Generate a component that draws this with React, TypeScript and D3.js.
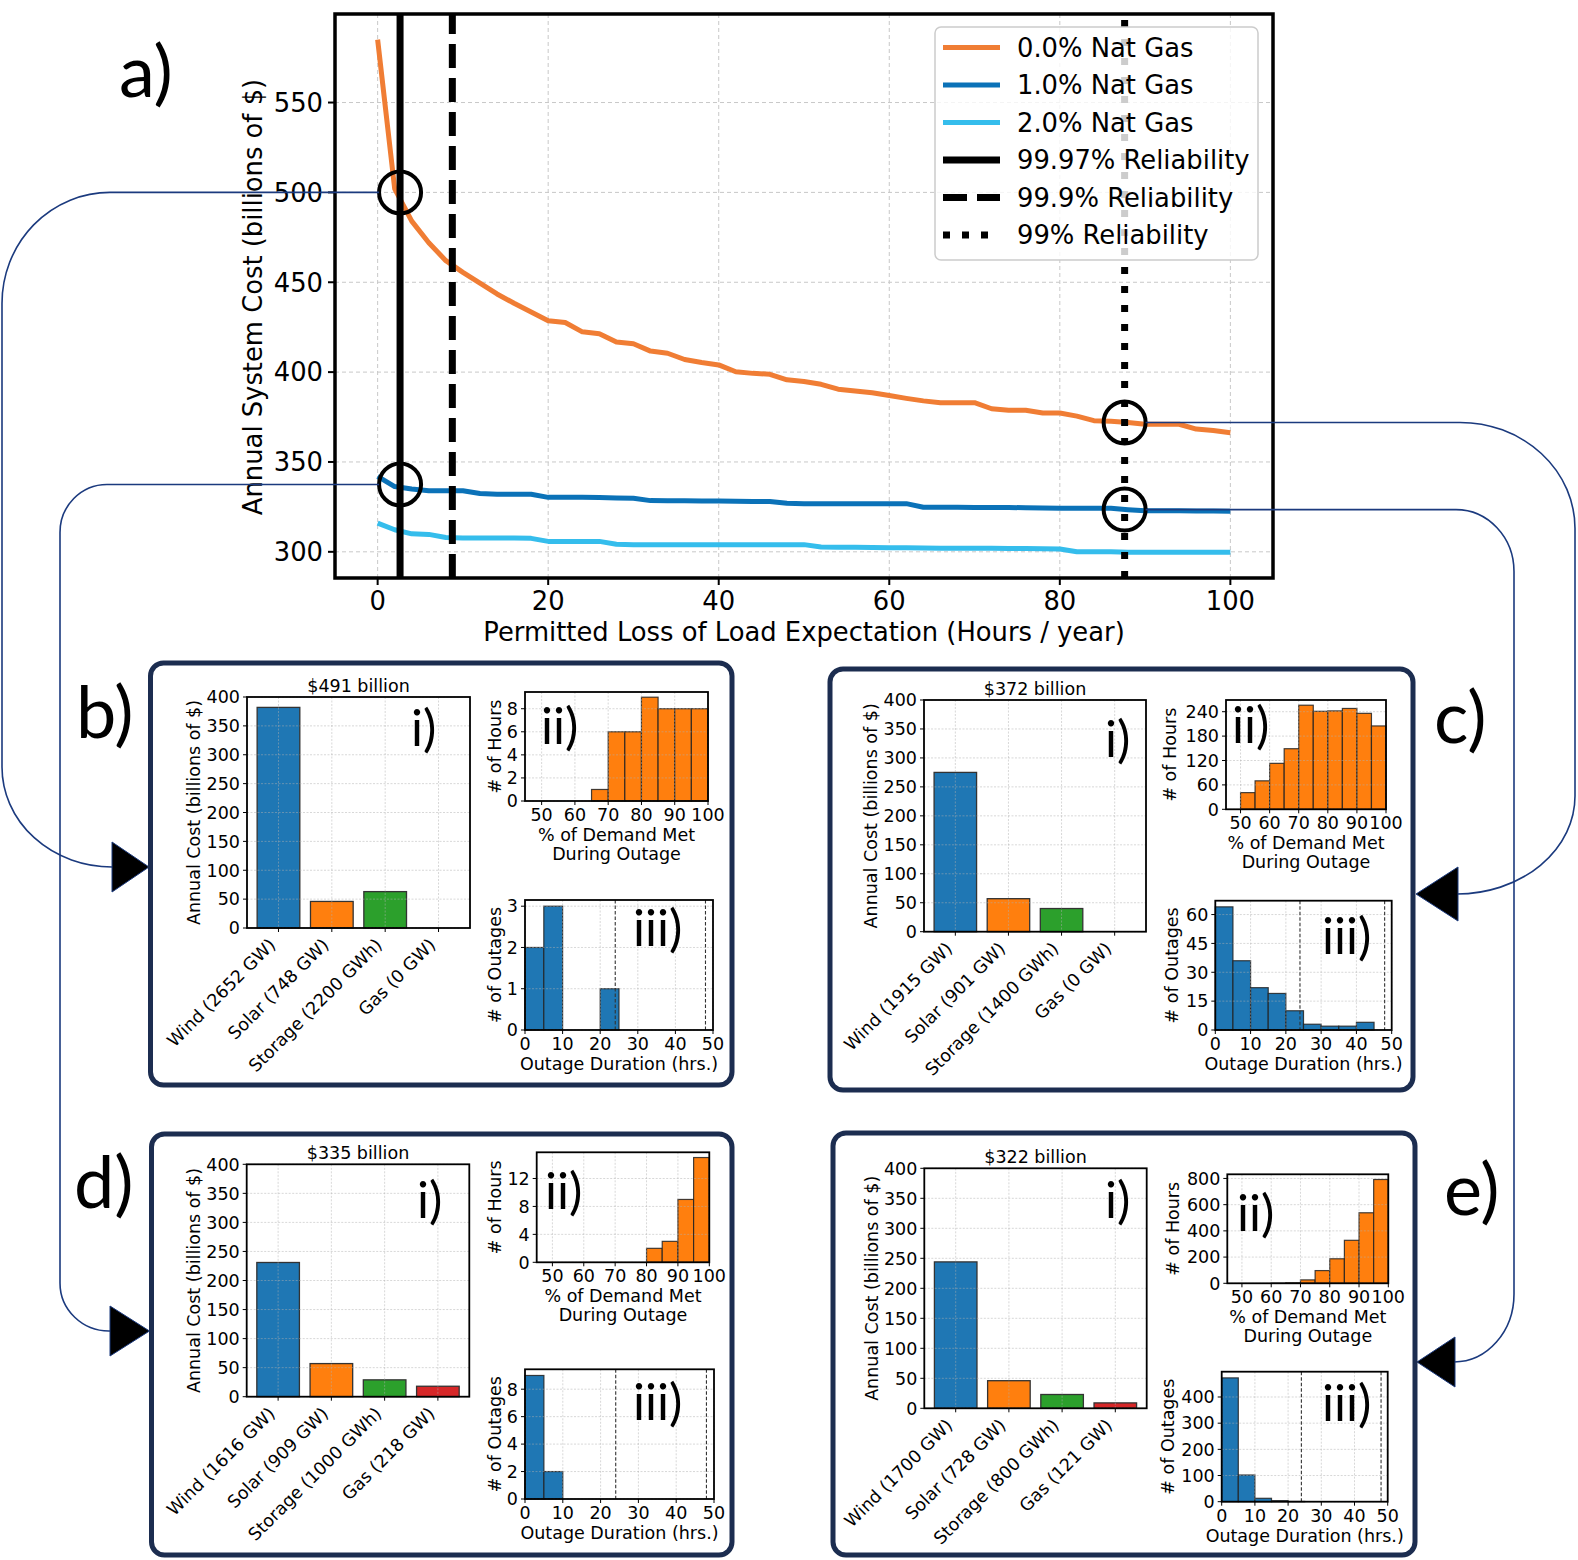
import React from "react";
import * as d3 from "d3";

// ---------------- DATA ----------------
const lole = [0, 2, 4, 6, 8, 10, 12, 14, 16, 18, 20, 22, 24, 26, 28, 30, 32, 34, 36, 38, 40, 42, 44, 46, 48, 50, 52, 54, 56, 58, 60, 62, 64, 66, 68, 70, 72, 74, 76, 78, 80, 82, 84, 86, 88, 90, 92, 94, 96, 98, 100];
const cost0 = [585, 502, 484, 472, 462, 455.5, 449.5, 443.5, 438.3, 433.5, 428.6, 427.6, 422.4, 421.4, 416.7, 415.8, 411.7, 410.5, 407, 405.3, 404, 400.2, 399.3, 398.8, 395.7, 394.8, 393.2, 390.5, 389.5, 388.5, 387, 385.4, 384, 383, 383, 383, 379.6, 378.8, 378.8, 377.2, 377.2, 375.5, 373, 372.6, 372, 371, 371, 371, 368.3, 367.5, 366.3];
const cost1 = [342, 336.3, 335, 334, 334, 334, 332.5, 332, 332, 332, 330.3, 330.3, 330.3, 330.2, 330, 329.8, 328.5, 328.4, 328.4, 328.3, 328.3, 328.2, 328, 328, 327, 326.8, 326.8, 326.8, 326.8, 326.8, 326.8, 326.8, 324.8, 324.8, 324.8, 324.7, 324.7, 324.7, 324.5, 324.4, 324.3, 324.3, 324.3, 324.2, 323.4, 322.8, 322.8, 322.8, 322.7, 322.7, 322.6];
const cost2 = [316, 312.3, 310, 309.7, 308, 307.7, 307.7, 307.7, 307.7, 307.5, 305.8, 305.8, 305.8, 305.8, 304.2, 304, 304, 304, 304, 304, 304, 304, 304, 304, 304, 304, 302.7, 302.6, 302.5, 302.4, 302.3, 302.2, 302.1, 302, 302, 302, 302, 301.8, 301.8, 301.7, 301.6, 300, 300, 300, 299.8, 299.8, 299.8, 299.8, 299.7, 299.7, 299.7];
const seriesNames = ["0.0% Nat Gas", "1.0% Nat Gas", "2.0% Nat Gas"];
const reliabilityX = [2.63, 8.76, 87.6];
const reliabilityNames = ["99.97% Reliability", "99.9% Reliability", "99% Reliability"];
const circleX = [2.63, 2.63, 87.6, 87.6];
const circleY = [500, 337.5, 372, 323.5];
const mainXTicks = [0, 20, 40, 60, 80, 100];
const mainYTicks = [300, 350, 400, 450, 500, 550];

const techB = ["Wind (2652 GW)", "Solar (748 GW)", "Storage (2200 GWh)", "Gas (0 GW)"];
const techC = ["Wind (1915 GW)", "Solar (901 GW)", "Storage (1400 GWh)", "Gas (0 GW)"];
const techD = ["Wind (1616 GW)", "Solar (909 GW)", "Storage (1000 GWh)", "Gas (218 GW)"];
const techE = ["Wind (1700 GW)", "Solar (728 GW)", "Storage (800 GWh)", "Gas (121 GW)"];
const costB = [382, 46, 63, 0];
const costC = [275, 57, 40, 0];
const costD = [231, 57, 29, 18];
const costE = [244, 46, 23, 9];
const totalB = "$491 billion";
const totalC = "$372 billion";
const totalD = "$335 billion";
const totalE = "$322 billion";
const costTicks = [0, 50, 100, 150, 200, 250, 300, 350, 400];

const demandEdges = [50, 55, 60, 65, 70, 75, 80, 85, 90, 95, 100];
const demandTicks = [50, 60, 70, 80, 90, 100];
const hoursB = [0, 0, 0, 1, 6, 6, 9, 8, 8, 8];
const hoursC = [41, 70, 113, 149, 256, 241, 242, 248, 236, 205];
const hoursD = [0, 0, 0, 0, 0, 0, 2, 3, 9, 15];
const hoursE = [0, 0, 1, 4, 26, 97, 187, 328, 538, 792];
const hoursTicksB = [0, 2, 4, 6, 8];
const hoursTicksC = [0, 60, 120, 180, 240];
const hoursTicksD = [0, 4, 8, 12];
const hoursTicksE = [0, 200, 400, 600, 800];

const durationEdges = [0, 5, 10, 15, 20, 25, 30, 35, 40, 45, 50];
const durationTicks = [0, 10, 20, 30, 40, 50];
const durationMarks = [24, 48];
const outagesB = [2, 3, 0, 0, 1, 0, 0, 0, 0, 0];
const outagesC = [64, 36, 22, 19, 10, 3, 2, 2, 4, 0];
const outagesD = [9, 2, 0, 0, 0, 0, 0, 0, 0, 0];
const outagesE = [473, 102, 13, 4, 1, 0, 0, 0, 0, 0];
const outagesTicksB = [0, 1, 2, 3];
const outagesTicksC = [0, 15, 30, 45, 60];
const outagesTicksD = [0, 2, 4, 6, 8];
const outagesTicksE = [0, 100, 200, 300, 400];

// ---------------- STYLE ----------------
const MPL = "'DejaVu Sans', sans-serif";
const PPT = "Lato, 'Open Sans', sans-serif";
const lineColors = ["#f07d34", "#0b72b8", "#35bdec"];
const relDash = ["", "24 10", "7 12"];
const barColors = ["#1f77b4", "#ff7f0e", "#2ca02c", "#d62728"];
const NAVY = "#1c2d50";
const LINK = "#1b3a7e";
const SF = 17.5;
const MF = 25.8;
const TAGF = 50;
const LETF = 72;

const MAIN = { L: 335, R: 1273, T: 14, B: 578 };
const xMain = d3.scaleLinear().domain([-5, 105]).range([MAIN.L, MAIN.R]);
const allCost = [...cost0, ...cost1, ...cost2];
const lo = d3.min(allCost) as number;
const hi = d3.max(allCost) as number;
const yMain = d3.scaleLinear().domain([lo - (hi - lo) * 0.05, hi + (hi - lo) * 0.05]).range([MAIN.B, MAIN.T]);

function MainChart() {
  const series = [cost0, cost1, cost2];
  const line = d3.line<number>().x((_, i) => xMain(lole[i])).y((d) => yMain(d));
  const legendRows = [...seriesNames, ...reliabilityNames];
  const ly0 = 47.5, ldy = 37.5;
  return (
    <g>
      {mainXTicks.map((t) => (
        <line key={"gx" + t} x1={xMain(t)} x2={xMain(t)} y1={MAIN.T} y2={MAIN.B} stroke="#c8c8c8" strokeWidth={1} strokeDasharray="4 3" />
      ))}
      {mainYTicks.map((t) => (
        <line key={"gy" + t} x1={MAIN.L} x2={MAIN.R} y1={yMain(t)} y2={yMain(t)} stroke="#c8c8c8" strokeWidth={1} strokeDasharray="4 3" />
      ))}
      {series.map((s, i) => (
        <path key={"s" + i} d={line(s) as string} fill="none" stroke={lineColors[i]} strokeWidth={5} strokeLinejoin="round" />
      ))}
      {reliabilityX.map((r, i) => (
        <line key={"r" + i} x1={xMain(r)} x2={xMain(r)} y1={MAIN.B} y2={MAIN.T} stroke="#000" strokeWidth={7} strokeDasharray={relDash[i] || undefined} />
      ))}
      <rect x={MAIN.L} y={MAIN.T} width={MAIN.R - MAIN.L} height={MAIN.B - MAIN.T} fill="none" stroke="#000" strokeWidth={3.5} />
      {mainXTicks.map((t) => (
        <g key={"tx" + t}>
          <line x1={xMain(t)} x2={xMain(t)} y1={MAIN.B} y2={MAIN.B + 7} stroke="#000" strokeWidth={2} />
          <text x={xMain(t)} y={MAIN.B + 32} textAnchor="middle" fontFamily={MPL} fontSize={MF}>{t}</text>
        </g>
      ))}
      {mainYTicks.map((t) => (
        <g key={"ty" + t}>
          <line x1={MAIN.L - 7} x2={MAIN.L} y1={yMain(t)} y2={yMain(t)} stroke="#000" strokeWidth={2} />
          <text x={MAIN.L - 12} y={yMain(t)} dy="0.36em" textAnchor="end" fontFamily={MPL} fontSize={MF}>{t}</text>
        </g>
      ))}
      <text x={(MAIN.L + MAIN.R) / 2} y={641} textAnchor="middle" fontFamily={MPL} fontSize={MF}>Permitted Loss of Load Expectation (Hours / year)</text>
      <text transform={`translate(252.5,297) rotate(-90)`} dy="0.36em" textAnchor="middle" fontFamily={MPL} fontSize={MF}>Annual System Cost (billions of $)</text>
      <rect x={935} y={27} width={323} height={233} rx={6} fill="#fff" fillOpacity={0.8} stroke="#cccccc" strokeWidth={1.5} />
      {legendRows.map((name, i) => {
        const yy = ly0 + i * ldy;
        const isRel = i >= 3;
        return (
          <g key={"lg" + i}>
            <line x1={943} x2={1000} y1={yy} y2={yy} stroke={isRel ? "#000" : lineColors[i]} strokeWidth={isRel ? 7 : 5} strokeDasharray={isRel ? relDash[i - 3] || undefined : undefined} />
            <text x={1017} y={yy} dy="0.36em" fontFamily={MPL} fontSize={MF}>{name}</text>
          </g>
        );
      })}
      {circleX.map((cx, i) => (
        <circle key={"c" + i} cx={xMain(cx)} cy={yMain(circleY[i])} r={21} fill="none" stroke="#000" strokeWidth={4} />
      ))}
    </g>
  );
}

function BarChart({ box, labels, values, title }: any) {
  const { L, R, T, B } = box;
  const x = d3.scaleLinear().domain([-0.59, 3.59]).range([L, R]);
  const y = d3.scaleLinear().domain([0, 400]).range([B, T]);
  const idx = labels.map((_: string, i: number) => i);
  return (
    <g>
      {values.map((v: number, i: number) =>
        v > 0 ? (
          <rect key={"b" + i} x={x(i - 0.4)} y={y(v)} width={x(i + 0.4) - x(i - 0.4)} height={y(0) - y(v)} fill={barColors[i]} stroke="#333" strokeWidth={1.3} />
        ) : null
      )}
      {idx.map((i: number) => (
        <line key={"gx" + i} x1={x(i)} x2={x(i)} y1={T} y2={B} stroke="#b0b0b0" strokeOpacity={0.55} strokeWidth={0.9} strokeDasharray="2 1.5" />
      ))}
      {costTicks.map((t) => (
        <line key={"gy" + t} x1={L} x2={R} y1={y(t)} y2={y(t)} stroke="#b0b0b0" strokeOpacity={0.55} strokeWidth={0.9} strokeDasharray="2 1.5" />
      ))}
      <rect x={L} y={T} width={R - L} height={B - T} fill="none" stroke="#000" strokeWidth={1.8} />
      {costTicks.map((t) => (
        <g key={"ty" + t}>
          <line x1={L - 4} x2={L} y1={y(t)} y2={y(t)} stroke="#000" strokeWidth={1} />
          <text x={L - 7} y={y(t)} dy="0.36em" textAnchor="end" fontFamily={MPL} fontSize={SF}>{t}</text>
        </g>
      ))}
      {labels.map((lab: string, i: number) => (
        <g key={"tx" + i}>
          <line x1={x(i)} x2={x(i)} y1={B} y2={B + 4} stroke="#000" strokeWidth={1} />
          <text transform={`translate(${x(i) - 2},${B + 18}) rotate(-45)`} textAnchor="end" fontFamily={MPL} fontSize={SF}>{lab}</text>
        </g>
      ))}
      <text x={(L + R) / 2} y={T - 5} textAnchor="middle" fontFamily={MPL} fontSize={SF}>{title}</text>
      <text transform={`translate(${L - 53},${(T + B) / 2}) rotate(-90)`} dy="0.36em" textAnchor="middle" fontFamily={MPL} fontSize={SF}>Annual Cost (billions of $)</text>
    </g>
  );
}

function Hist({ box, edges, counts, domain, xTicks, yTicks, color, ylabel, ylabX, xlabel, marks }: any) {
  const { L, R, T, B } = box;
  const x = d3.scaleLinear().domain(domain).range([L, R]);
  const y = d3.scaleLinear().domain([0, (d3.max(counts) as number) * 1.05]).range([B, T]);
  return (
    <g>
      {counts.map((c: number, i: number) =>
        c > 0 ? (
          <rect key={"h" + i} x={x(edges[i])} y={y(c)} width={x(edges[i + 1]) - x(edges[i])} height={y(0) - y(c)} fill={color} stroke="#222" strokeOpacity={0.85} strokeWidth={1.2} />
        ) : null
      )}
      {xTicks.map((t: number) => (
        <line key={"gx" + t} x1={x(t)} x2={x(t)} y1={T} y2={B} stroke="#b0b0b0" strokeOpacity={0.55} strokeWidth={0.9} strokeDasharray="2 1.5" />
      ))}
      {yTicks.map((t: number) => (
        <line key={"gy" + t} x1={L} x2={R} y1={y(t)} y2={y(t)} stroke="#b0b0b0" strokeOpacity={0.55} strokeWidth={0.9} strokeDasharray="2 1.5" />
      ))}
      {(marks || []).map((m: number) => (
        <line key={"m" + m} x1={x(m)} x2={x(m)} y1={T} y2={B} stroke="#333" strokeWidth={1.1} strokeDasharray="3.5 2" />
      ))}
      <rect x={L} y={T} width={R - L} height={B - T} fill="none" stroke="#000" strokeWidth={1.8} />
      {yTicks.map((t: number) => (
        <g key={"ty" + t}>
          <line x1={L - 4} x2={L} y1={y(t)} y2={y(t)} stroke="#000" strokeWidth={1} />
          <text x={L - 7} y={y(t)} dy="0.36em" textAnchor="end" fontFamily={MPL} fontSize={SF}>{t}</text>
        </g>
      ))}
      {xTicks.map((t: number) => (
        <g key={"tx" + t}>
          <line x1={x(t)} x2={x(t)} y1={B} y2={B + 4} stroke="#000" strokeWidth={1} />
          <text x={x(t)} y={B + 20} textAnchor="middle" fontFamily={MPL} fontSize={SF}>{t}</text>
        </g>
      ))}
      {xlabel.map((s: string, i: number) => (
        <text key={"xl" + i} x={(L + R) / 2} y={B + 40 + i * 18.5} textAnchor="middle" fontFamily={MPL} fontSize={SF}>{s}</text>
      ))}
      <text transform={`translate(${ylabX},${(T + B) / 2}) rotate(-90)`} dy="0.36em" textAnchor="middle" fontFamily={MPL} fontSize={SF}>{ylabel}</text>
    </g>
  );
}

function Panel({ cfg, labels, costs, title, hours, hoursTicks, outages, outagesTicks }: any) {
  const [x0, y0, x1, y1] = cfg.box;
  return (
    <g>
      <rect x={x0} y={y0} width={x1 - x0} height={y1 - y0} rx={13} fill="#fff" stroke={NAVY} strokeWidth={5} />
      <BarChart box={cfg.bar} labels={labels} values={costs} title={title} />
      <Hist box={cfg.ii} edges={demandEdges} counts={hours} domain={[45, 100]} xTicks={demandTicks} yTicks={hoursTicks} color="#ff7f0e" ylabel="# of Hours" ylabX={cfg.ylabII} xlabel={["% of Demand Met", "During Outage"]} />
      <Hist box={cfg.iii} edges={durationEdges} counts={outages} domain={[0, 50]} xTicks={durationTicks} yTicks={outagesTicks} color="#1f77b4" ylabel="# of Outages" ylabX={cfg.ylabIII} xlabel={["Outage Duration (hrs.)"]} marks={durationMarks} />
      <text x={cfg.tagI[0]} y={cfg.tagI[1]} fontFamily={PPT} fontSize={TAGF}>i)</text>
      <text x={cfg.tagII[0]} y={cfg.tagII[1]} fontFamily={PPT} fontSize={TAGF}>ii)</text>
      <text x={cfg.tagIII[0]} y={cfg.tagIII[1]} fontFamily={PPT} fontSize={TAGF}>iii)</text>
    </g>
  );
}

const layoutB = {
  box: [150.5, 663, 732, 1085],
  bar: { L: 247, R: 470, T: 697, B: 928 },
  ii: { L: 525, R: 708, T: 692, B: 801 },
  iii: { L: 525, R: 713, T: 900, B: 1030 },
  ylabII: 495, ylabIII: 495,
  tagI: [411, 746], tagII: [541, 744], tagIII: [633, 946],
};
const layoutC = {
  box: [830, 669, 1413, 1090],
  bar: { L: 924, R: 1146, T: 700, B: 931.7 },
  ii: { L: 1226, R: 1386, T: 700, B: 809.3 },
  iii: { L: 1215.3, R: 1391.7, T: 900.7, B: 1030 },
  ylabII: 1170, ylabIII: 1171.7,
  tagI: [1105, 757], tagII: [1232, 743], tagIII: [1322, 954],
};
const layoutD = {
  box: [151.5, 1134, 732, 1555],
  bar: { L: 246.7, R: 469.3, T: 1164.3, B: 1396.7 },
  ii: { L: 536.7, R: 709.3, T: 1152.3, B: 1262.3 },
  iii: { L: 525, R: 714, T: 1369.3, B: 1499 },
  ylabII: 495, ylabIII: 495,
  tagI: [417, 1218], tagII: [545, 1209], tagIII: [633, 1420],
};
const layoutE = {
  box: [833, 1133, 1415, 1555],
  bar: { L: 924.3, R: 1146.7, T: 1168.3, B: 1408.3 },
  ii: { L: 1227.3, R: 1388.3, T: 1174.3, B: 1283.3 },
  iii: { L: 1221.7, R: 1387.7, T: 1371.7, B: 1501.7 },
  ylabII: 1173, ylabIII: 1168,
  tagI: [1105, 1218], tagII: [1237, 1231], tagIII: [1322, 1421],
};

function tri(xb: number, xt: number, yc: number, h: number) {
  return `M${xb},${yc - h} L${xb},${yc + h} L${xt},${yc} Z`;
}

function Connectors() {
  const r = 21;
  const cx = circleX.map((v) => xMain(v));
  const cy = circleY.map((v) => yMain(v));
  const pB = `M${cx[0] - r},${cy[0]} H110 A108 111 0 0 0 2 ${cy[0] + 111} V767 A110 100 0 0 0 112 867`;
  const pD = `M${cx[1] - r},${cy[1]} H107 A47 48 0 0 0 60 ${cy[1] + 48} V1283 A49 48 0 0 0 110 1331`;
  const pC = `M${cx[2] + r},${cy[2]} H1460 A115 106 0 0 1 1575 ${cy[2] + 106} V796 A118 98 0 0 1 1457 894`;
  const pE = `M${cx[3] + r},${cy[3]} H1456 A58 62 0 0 1 1514 ${cy[3] + 62} V1294 A60 68 0 0 1 1454 1362`;
  return (
    <g>
      {[pB, pD, pC, pE].map((d, i) => (
        <path key={"p" + i} d={d} fill="none" stroke={LINK} strokeWidth={1.6} />
      ))}
      <path d={tri(112, 149, 867, 25)} fill="#000" stroke={LINK} strokeWidth={1} />
      <path d={tri(110, 149.5, 1331, 25)} fill="#000" stroke={LINK} strokeWidth={1} />
      <path d={tri(1458, 1416, 894, 27)} fill="#000" stroke={LINK} strokeWidth={1} />
      <path d={tri(1455, 1417, 1362, 25)} fill="#000" stroke={LINK} strokeWidth={1} />
    </g>
  );
}

export default function App() {
  return (
    <svg width={1578} height={1560} viewBox="0 0 1578 1560" style={{ position: "absolute", left: 0, top: 0, display: "block", background: "#fff" }}>
      <rect x={0} y={0} width={1578} height={1560} fill="#fff" />
      <MainChart />
      <Connectors />
      <Panel cfg={layoutB} labels={techB} costs={costB} title={totalB} hours={hoursB} hoursTicks={hoursTicksB} outages={outagesB} outagesTicks={outagesTicksB} />
      <Panel cfg={layoutC} labels={techC} costs={costC} title={totalC} hours={hoursC} hoursTicks={hoursTicksC} outages={outagesC} outagesTicks={outagesTicksC} />
      <Panel cfg={layoutD} labels={techD} costs={costD} title={totalD} hours={hoursD} hoursTicks={hoursTicksD} outages={outagesD} outagesTicks={outagesTicksD} />
      <Panel cfg={layoutE} labels={techE} costs={costE} title={totalE} hours={hoursE} hoursTicks={hoursTicksE} outages={outagesE} outagesTicks={outagesTicksE} />
      <text x={119} y={97} fontFamily={PPT} fontSize={LETF}>a)</text>
      <text x={76} y={738} fontFamily={PPT} fontSize={LETF}>b)</text>
      <text x={1434} y={743} fontFamily={PPT} fontSize={LETF}>c)</text>
      <text x={74} y={1208} fontFamily={PPT} fontSize={LETF}>d)</text>
      <text x={1444} y={1215} fontFamily={PPT} fontSize={LETF}>e)</text>
    </svg>
  );
}
